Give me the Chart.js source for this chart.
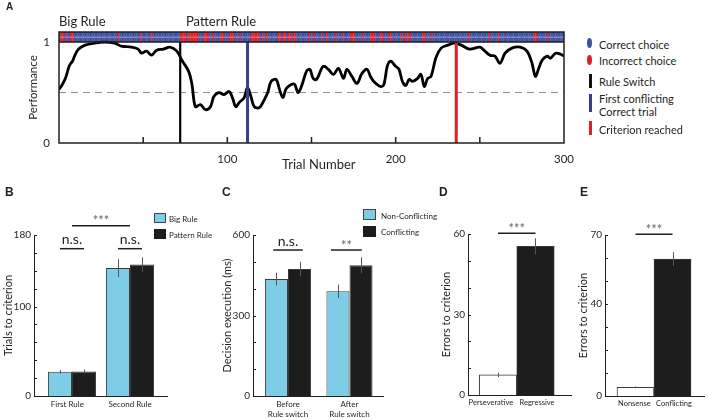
<!DOCTYPE html>
<html>
<head>
<meta charset="utf-8">
<script src="https://cdn.jsdelivr.net/npm/chart.js@4.4.1/dist/chart.umd.min.js"></script>
<style>
  body { margin: 0; width: 708px; height: 419px; position: relative; overflow: hidden; background: #fff; font-family: Lato, sans-serif; color: #231f20; }
  canvas { position: absolute; }
  .t { position: absolute; white-space: nowrap; line-height: 1; transform: translateY(-50%); }
  .p { position: absolute; font-family: "Liberation Sans", Arial, sans-serif; font-weight: bold; line-height: 1; }
  .sw { position: absolute; box-sizing: border-box; }
</style>
</head>
<body>
<canvas id="cA" width="580" height="175" style="left:0;top:0"></canvas>
<canvas id="cB" width="220" height="229" style="left:0;top:190px"></canvas>
<canvas id="cC" width="180" height="229" style="left:220px;top:190px"></canvas>
<canvas id="cD" width="160" height="229" style="left:420px;top:190px"></canvas>
<canvas id="cE" width="138" height="229" style="left:570px;top:190px"></canvas>

<div class="p" style="left:6px;top:2px;font-size:10px">A</div>
<div class="p" style="left:5px;top:186px;font-size:12px">B</div>
<div class="p" style="left:222px;top:186px;font-size:12px">C</div>
<div class="p" style="left:439px;top:186px;font-size:12px">D</div>
<div class="p" style="left:580px;top:186px;font-size:12px">E</div>

<div class="t" style="left:59px;top:21px;font-size:13px">Big Rule</div>
<div class="t" style="left:186px;top:21px;font-size:13px">Pattern Rule</div>
<div class="t" style="left:282px;top:164px;font-size:13px">Trial Number</div>

<!-- legend A -->
<div class="sw" style="left:587px;top:38px;width:5px;height:10px;border-radius:50%;background:#3f51a5"></div>
<div class="t" style="left:599px;top:44px;font-size:11px">Correct choice</div>
<div class="sw" style="left:587px;top:55px;width:5px;height:10px;border-radius:50%;background:#e31e24"></div>
<div class="t" style="left:599px;top:60px;font-size:11px">Incorrect choice</div>
<div class="sw" style="left:589px;top:74px;width:2.5px;height:14px;background:#111"></div>
<div class="t" style="left:599px;top:80.5px;font-size:11px">Rule Switch</div>
<div class="sw" style="left:589px;top:94px;width:2.5px;height:18px;background:#3b3b8f"></div>
<div class="t" style="left:599px;top:97.5px;font-size:11px">First conflicting</div>
<div class="t" style="left:599px;top:111px;font-size:11px">Correct trial</div>
<div class="sw" style="left:589px;top:121px;width:2.5px;height:14px;background:#e31e24"></div>
<div class="t" style="left:599px;top:129px;font-size:11px">Criterion reached</div>

<!-- legend B -->
<div class="sw" style="left:154px;top:213px;width:12px;height:10px;background:#7fcce6;border:1px solid #444"></div>
<div class="t" style="left:169px;top:219px;font-size:8px">Big Rule</div>
<div class="sw" style="left:154px;top:229px;width:12px;height:10px;background:#1d1d1d"></div>
<div class="t" style="left:169px;top:234.5px;font-size:8px">Pattern Rule</div>

<!-- legend C -->
<div class="sw" style="left:363px;top:209px;width:13px;height:11px;background:#7fcce6;border:1px solid #444"></div>
<div class="t" style="left:381px;top:215.5px;font-size:8px">Non-Conflicting</div>
<div class="sw" style="left:363px;top:226px;width:13px;height:10.5px;background:#1d1d1d"></div>
<div class="t" style="left:381px;top:232px;font-size:8px">Conflicting</div>

<script>
// --- panel A data ---
const nTrials = 300;
const incorrectTrials = [2, 3, 5, 8, 9, 36, 49, 56,
  73, 74, 75, 76, 78, 79, 80, 81, 82, 83, 87, 88, 89, 92, 97, 98, 102, 103, 104, 108,
  115, 116, 117, 118, 119, 122, 124, 131, 132, 134, 135, 137, 138, 140, 141,
  149, 152, 157, 160, 165, 169, 174, 175, 176, 181, 186, 187, 188, 192, 193, 197, 198,
  204, 206, 208, 209, 217, 218, 222, 244, 256, 262, 283, 284, 291];
const perfTrials = [0, 2, 4, 6, 7, 8, 9.5, 11.5, 15.5, 21,
  27, 33, 37, 43, 47, 49, 52, 55, 58, 62,
  66, 70, 73, 77, 79, 81, 84, 87, 90, 92,
  95, 98, 101, 103, 105, 107, 110, 112, 114, 116,
  119, 122, 124, 126, 129, 131, 133, 135, 138, 140,
  142, 144, 147, 149, 151, 153, 157, 160, 163, 166,
  169, 171, 174, 177, 180, 183, 185, 187, 191, 193,
  195, 197, 200, 202, 204, 206, 208, 210, 213, 215,
  217, 219, 221, 224, 227, 231, 235, 239, 244, 250,
  253, 256, 259, 262, 265, 269, 274, 278, 281, 283,
  285, 287, 290, 292, 295, 298, 300];
const perfValues = [0.53, 0.58, 0.65, 0.76, 0.79, 0.81, 0.87, 0.93, 0.97, 0.99,
  1.0, 0.99, 0.96, 0.95, 0.93, 0.89, 0.91, 0.87, 0.92, 0.93,
  0.95, 0.91, 0.82, 0.71, 0.58, 0.36, 0.38, 0.33, 0.36, 0.46,
  0.50, 0.48, 0.51, 0.45, 0.36, 0.40, 0.45, 0.55, 0.46, 0.36,
  0.35, 0.43, 0.50, 0.61, 0.63, 0.53, 0.45, 0.54, 0.58, 0.58,
  0.50, 0.56, 0.71, 0.73, 0.64, 0.63, 0.76, 0.73, 0.68, 0.74,
  0.64, 0.73, 0.66, 0.59, 0.69, 0.73, 0.66, 0.61, 0.56, 0.58,
  0.76, 0.81, 0.76, 0.73, 0.61, 0.57, 0.63, 0.61, 0.64, 0.68,
  0.56, 0.64, 0.66, 0.85, 0.94, 0.97, 0.99, 0.97, 0.93, 0.95,
  0.91, 0.87, 0.86, 0.79, 0.89, 0.94, 0.95, 0.91, 0.79, 0.66,
  0.74, 0.82, 0.86, 0.84, 0.89, 0.88, 0.86];
const chanceLevel = 0.5;
const ruleSwitchTrial = 72;
const firstConflictTrial = 112;
const criterionTrial = 236;

// --- panel B data ---
const ruleCats = ['First Rule', 'Second Rule'];
const bigRule = [27, 143];
const bigRuleErr = [2, 10];
const patternRule = [27.5, 147];
const patternRuleErr = [2, 8];

// --- panel C data ---
const switchCats = [['Before', 'Rule switch'], ['After', 'Rule switch']];
const nonConflicting = [436, 390];
const nonConflictingErr = [24, 25];
const conflicting = [473, 487];
const conflictingErr = [27, 30];

// --- panel D / E data ---
const errorTypeCats = ['Perseverative', 'Regressive'];
const errorTypeCounts = [7.5, 55.4];
const errorTypeErr = [0.8, 3];
const trialTypeCats = ['Nonsense', 'Conflicting'];
const trialTypeCounts = [3.8, 59.5];
const trialTypeErr = [0.4, 3];

const BLUE = '#3f51a5', RED = '#e31e24', SKY = '#7fcce6', DARK = '#1d1d1d', INK = '#231f20';

Chart.defaults.font.family = 'Lato, sans-serif';
Chart.defaults.color = INK;
Chart.defaults.animation = false;
Chart.defaults.plugins.legend.display = false;
Chart.defaults.plugins.tooltip.enabled = false;

const trialNumbers = Array.from({ length: nTrials }, (_, i) => i + 1);

function vertical(trial, color, width) {
  return { data: [{ x: trial, y: 0 }, { x: trial, y: 1 }], borderColor: color, borderWidth: width, pointRadius: 0, order: 0 };
}

const framePlugin = {
  id: 'frame',
  afterDatasetsDraw(chart) {
    const { ctx, chartArea: a, scales: { x, y } } = chart;
    ctx.save();
    ctx.strokeStyle = INK;
    ctx.lineWidth = 1.5;
    ctx.strokeRect(a.left, a.top, a.right - a.left, a.bottom - a.top);
    ctx.beginPath();
    const y1 = y.getPixelForValue(1);
    ctx.moveTo(a.left, y1);
    ctx.lineTo(a.right, y1);
    x.ticks.forEach(t => {
      if (t.value > x.min && t.value < x.max) {
        const px = x.getPixelForValue(t.value);
        ctx.moveTo(px, a.bottom);
        ctx.lineTo(px, a.bottom - 6);
      }
    });
    ctx.stroke();
    ctx.restore();
  }
};

new Chart(document.getElementById('cA'), {
  type: 'line',
  data: {
    datasets: [
      {
        type: 'bar',
        data: trialNumbers.map(t => ({ x: t - 0.5, y: [1, 1.1] })),
        backgroundColor: trialNumbers.map(t => incorrectTrials.includes(t) ? RED : BLUE),
        borderWidth: 0, barPercentage: 1.15, categoryPercentage: 1, grouped: false, order: 5
      },
      {
        data: trialNumbers.map(t => ({ x: t - 0.5, y: 1.05 })),
        showLine: false, pointRadius: 0.6, pointBorderWidth: 0,
        pointBackgroundColor: 'rgba(255,255,255,0.7)', order: 4
      },
      {
        data: [{ x: 0, y: chanceLevel }, { x: nTrials, y: chanceLevel }],
        borderColor: '#8c8c8c', borderWidth: 1, borderDash: [7, 5], pointRadius: 0, order: 3
      },
      {
        data: perfTrials.map((t, i) => ({ x: t, y: perfValues[i] })),
        borderColor: '#000', borderWidth: 2.8, pointRadius: 0, tension: 0.35, order: 2
      },
      vertical(ruleSwitchTrial, '#000', 2.2),
      vertical(firstConflictTrial, '#3b3b8f', 3),
      vertical(criterionTrial, RED, 3)
    ]
  },
  options: {
    responsive: false,
    layout: { padding: { left: 0, top: 32, right: 16, bottom: 0 } },
    scales: {
      x: {
        type: 'linear', min: 0, max: nTrials, offset: false,
        grid: { display: false, drawTicks: false },
        border: { display: false },
        ticks: {
          stepSize: 50, autoSkip: false, maxRotation: 0, padding: 9, font: { size: 11.5 },
          callback: v => (v % 100 === 0 && v > 0) ? v : ''
        },
        afterFit: s => { s.height = 32; s.paddingLeft = 0; s.paddingRight = 0; }
      },
      y: {
        min: 0, max: 1.1,
        grid: { display: false, drawTicks: false },
        border: { display: false },
        afterBuildTicks: s => { s.ticks = [{ value: 0 }, { value: 1 }]; },
        ticks: { padding: 9, font: { size: 11.5 } },
        title: { display: true, text: 'Performance', font: { size: 11.5 }, padding: { top: 26, bottom: 0 } },
        afterFit: s => { s.width = 59; s.paddingTop = 0; s.paddingBottom = 0; }
      }
    }
  },
  plugins: [framePlugin]
});

function barExtras(brackets) {
  return {
    id: 'barExtras',
    afterDatasetsDraw(chart) {
      const { ctx, chartArea: a, scales: { x, y } } = chart;
      ctx.save();
      ctx.lineWidth = 1;
      chart.data.datasets.forEach((ds, i) => {
        chart.getDatasetMeta(i).data.forEach((bar, j) => {
          const v = ds.data[j].y, e = ds.errors[j];
          const px = Math.round(bar.x) + 0.5;
          ctx.strokeStyle = '#555';
          ctx.beginPath();
          ctx.moveTo(px, y.getPixelForValue(v + e));
          ctx.lineTo(px, y.getPixelForValue(v - e));
          ctx.stroke();
        });
      });
      ctx.strokeStyle = INK;
      ctx.beginPath();
      y.ticks.forEach(t => {
        const py = Math.round(y.getPixelForValue(t.value)) + 0.5;
        ctx.moveTo(a.left, py);
        ctx.lineTo(a.left + 3, py);
      });
      ctx.stroke();
      brackets.forEach(b => {
        const x0 = x.getPixelForValue(b.x0), x1 = x.getPixelForValue(b.x1), py = y.getPixelForValue(b.y);
        ctx.lineWidth = 1.5;
        ctx.strokeStyle = INK;
        ctx.beginPath();
        ctx.moveTo(x0, py);
        ctx.lineTo(x1, py);
        ctx.stroke();
        ctx.font = b.size + 'px Lato, sans-serif';
        ctx.fillStyle = b.color || INK;
        ctx.textAlign = 'center';
        ctx.textBaseline = 'alphabetic';
        ctx.fillText(b.text, (x0 + x1) / 2, py - b.dy);
      });
      ctx.restore();
    }
  };
}

function barChart(id, cfg) {
  const labelPos = cfg.labelPos || cfg.cats.map((c, i) => i);
  return new Chart(document.getElementById(id), {
    type: 'bar',
    data: { datasets: cfg.datasets },
    options: {
      responsive: false,
      layout: { padding: cfg.padding },
      scales: {
        x: {
          type: 'linear', min: cfg.xMin, max: cfg.xMax, offset: false,
          grid: { display: false, drawTicks: false, offset: false },
          border: { display: true, color: INK, width: 1 },
          afterBuildTicks: s => { s.ticks = labelPos.map(p => ({ value: p })); },
          ticks: { callback: (v, i) => cfg.cats[i], font: { size: cfg.labelSize || 8, lineHeight: 1.25 }, padding: 3, maxRotation: 0, autoSkip: false },
          afterFit: s => { s.height = cfg.xHeight; s.paddingLeft = 0; s.paddingRight = 0; }
        },
        y: {
          min: 0, max: cfg.yMax,
          grid: { display: false, drawTicks: false },
          border: { display: true, color: INK, width: 1 },
          ticks: { stepSize: cfg.step, autoSkip: false, padding: 3, font: { size: 10 },
            callback: v => cfg.yLabels.includes(v) ? v : '' },
          title: { display: true, text: cfg.title, font: { size: 11 }, padding: { top: cfg.titlePad, bottom: 0 } },
          afterFit: s => { s.width = cfg.yWidth; s.paddingTop = 0; s.paddingBottom = 0; }
        }
      }
    },
    plugins: [barExtras(cfg.brackets)]
  });
}

const barStyle = { borderColor: '#3a3a3a', borderWidth: 1, barPercentage: 1 };

barChart('cB', {
  cats: ruleCats, labelPos: [-0.08, 1.0], xMin: -0.655, xMax: 1.638, yMax: 180, step: 20, yLabels: [0, 100, 180],
  title: 'Trials to criterion', titlePad: 1.5, yWidth: 34, xHeight: 23,
  padding: { left: 0, top: 45, right: 53, bottom: 0 },
  datasets: [
    Object.assign({ data: ruleCats.map((c, i) => ({ x: i, y: bigRule[i] })), errors: bigRuleErr, backgroundColor: SKY, categoryPercentage: 0.83 }, barStyle),
    Object.assign({ data: ruleCats.map((c, i) => ({ x: i, y: patternRule[i] })), errors: patternRuleErr, backgroundColor: DARK, categoryPercentage: 0.83 }, barStyle)
  ],
  brackets: [
    { x0: -0.2075, x1: 0.2075, y: 164.7, text: 'n.s.', size: 14, dy: 4.5 },
    { x0: 0.7925, x1: 1.2075, y: 164.7, text: 'n.s.', size: 14, dy: 4.5 },
    { x0: 0, x1: 1, y: 190.3, text: '***', size: 13, dy: 0.5, color: '#666' }
  ]
});

barChart('cC', {
  cats: switchCats, xMin: -0.569, xMax: 1.545, yMax: 600, step: 100, yLabels: [0, 300, 600],
  title: 'Decision execution (ms)', titlePad: 1, yWidth: 33, xHeight: 23,
  padding: { left: 0, top: 45, right: 17, bottom: 0 },
  datasets: [
    Object.assign({ data: switchCats.map((c, i) => ({ x: i, y: nonConflicting[i] })), errors: nonConflictingErr, backgroundColor: SKY, categoryPercentage: 0.75 }, barStyle),
    Object.assign({ data: switchCats.map((c, i) => ({ x: i, y: conflicting[i] })), errors: conflictingErr, backgroundColor: DARK, categoryPercentage: 0.75 }, barStyle)
  ],
  brackets: [
    { x0: -0.24, x1: 0.24, y: 544, text: 'n.s.', size: 14, dy: 4.5 },
    { x0: 0.7, x1: 1.2, y: 544, text: '**', size: 13, dy: 0, color: '#666' }
  ]
});

barChart('cD', {
  cats: errorTypeCats, labelPos: [-0.19, 1.04], labelSize: 7.5, xMin: -0.8, xMax: 1.947, yMax: 60, step: 10, yLabels: [0, 30, 60],
  title: 'Errors to criterion', titlePad: 20, yWidth: 48, xHeight: 24,
  padding: { left: 0, top: 44, right: 9, bottom: 0 },
  datasets: [
    Object.assign({ data: errorTypeCats.map((c, i) => ({ x: i, y: errorTypeCounts[i] })), errors: errorTypeErr,
      backgroundColor: ['#fff', DARK], categoryPercentage: 1 }, barStyle)
  ],
  brackets: [
    { x0: 0, x1: 1, y: 60.3, text: '***', size: 13, dy: 0.5, color: '#666' }
  ]
});

barChart('cE', {
  cats: trialTypeCats, labelPos: [-0.03, 1.04], labelSize: 7.5, xMin: -0.824, xMax: 1.851, yMax: 70, step: 10, yLabels: [0, 40, 70],
  title: 'Errors to criterion', titlePad: 7, yWidth: 35, xHeight: 23,
  padding: { left: 0, top: 45, right: 4, bottom: 0 },
  datasets: [
    Object.assign({ data: trialTypeCats.map((c, i) => ({ x: i, y: trialTypeCounts[i] })), errors: trialTypeErr,
      backgroundColor: ['#fff', DARK], categoryPercentage: 1 }, barStyle)
  ],
  brackets: [
    { x0: 0, x1: 1, y: 70.3, text: '***', size: 13, dy: 0.5, color: '#666' }
  ]
});
</script>
</body>
</html>
